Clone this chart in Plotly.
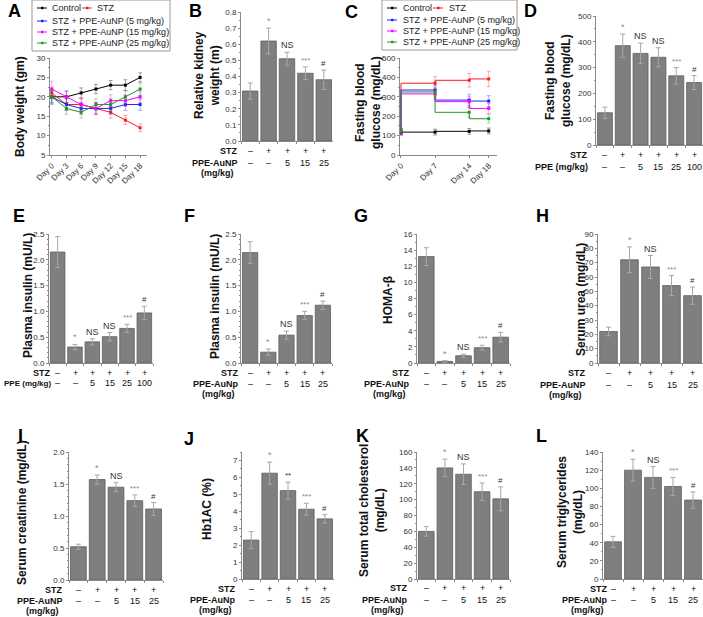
import plotly.graph_objects as go

W, H = 703, 617
FONT = "Liberation Sans, Arial, sans-serif"

# ---------------- DATA ----------------
series_names = ["Control", "STZ", "STZ + PPE-AuNP (5 mg/kg)",
                "STZ + PPE-AuNP (15 mg/kg)", "STZ + PPE-AuNP (25 mg/kg)"]
series_colors = ["#000000", "#ff1a1a", "#2020ff", "#ff00ff", "#1f9a1f"]
series_err_colors = ["rgba(0,0,0,0.35)", "rgba(255,26,26,0.35)", "rgba(32,32,255,0.35)",
                     "rgba(255,0,255,0.35)", "rgba(31,154,31,0.35)"]

# Panel A: body weight
days_a = [0, 3, 6, 9, 12, 15, 18]
day_labels_a = ["Day 0", "Day 3", "Day 6", "Day 9", "Day 12", "Day 15", "Day 18"]
bw_control = [20, 20, 21, 22, 23, 23, 25]
bw_stz = [21, 18, 18, 17, 16, 14, 12]
bw_5 = [20, 18, 17, 17, 17, 18, 18]
bw_15 = [22, 20, 18, 17, 19, 19, 20]
bw_25 = [20, 17, 16, 18, 18, 20, 22]
bw_err_control = [1.5, 1.5, 1.3, 1.2, 1.2, 1.4, 1.2]
bw_err_stz = [1.5, 1.5, 1.5, 1.5, 1.5, 1.2, 1.0]
bw_err_5 = [1.8, 1.5, 1.5, 1.5, 1.5, 1.5, 1.5]
bw_err_15 = [2.0, 1.5, 1.6, 1.5, 1.5, 1.5, 1.5]
bw_err_25 = [2.0, 1.5, 1.5, 1.5, 1.5, 1.6, 1.6]

# Panel C: fasting blood glucose time course
days_c = [0, 7, 14, 18]
day_labels_c = ["Day 0", "Day 7", "Day 14", "Day 18"]
fbg_control = [115, 118, 122, 124]
fbg_stz = [120, 370, 385, 392]
fbg_5 = [118, 335, 283, 278]
fbg_15 = [122, 315, 275, 240]
fbg_25 = [125, 325, 220, 187]
fbg_err_control = [12, 15, 15, 15]
fbg_err_stz = [15, 35, 35, 40]
fbg_err_5 = [15, 25, 30, 28]
fbg_err_15 = [15, 25, 28, 25]
fbg_err_25 = [15, 25, 25, 22]

# Bar panel groups
groups5 = ["Control", "STZ", "STZ + 5", "STZ + 15", "STZ + 25"]
groups6 = ["Control", "STZ", "STZ + 5", "STZ + 15", "STZ + 25", "STZ + 100"]
stz_row5 = ["–", "+", "+", "+", "+"]
stz_row6 = ["–", "+", "+", "+", "+", "+"]
dose_row5 = ["–", "–", "5", "15", "25"]
dose_row6 = ["–", "–", "5", "15", "25", "100"]

# B: relative kidney weight
kidney = [0.31, 0.62, 0.51, 0.42, 0.38]
kidney_err = [0.05, 0.08, 0.04, 0.04, 0.06]
kidney_sig = ["", "*", "NS", "***", "#"]
# D: fasting blood glucose (PPE)
fbg_bar = [125, 385, 355, 340, 268, 242]
fbg_bar_err = [22, 45, 40, 37, 32, 27]
fbg_bar_sig = ["", "*", "NS", "NS", "***", "#"]
# E: plasma insulin (PPE)
ins_ppe = [2.15, 0.31, 0.41, 0.51, 0.67, 0.97]
ins_ppe_err = [0.30, 0.05, 0.06, 0.08, 0.08, 0.13]
ins_ppe_sig = ["", "*", "NS", "NS", "***", "#"]
# F: plasma insulin (PPE-AuNp)
ins_np = [2.14, 0.21, 0.54, 0.92, 1.12]
ins_np_err = [0.21, 0.06, 0.08, 0.08, 0.08]
ins_np_sig = ["", "*", "NS", "***", "#"]
# G: HOMA-beta
homa = [13.2, 0.2, 0.9, 1.9, 3.2]
homa_err = [1.1, 0.1, 0.2, 0.3, 0.6]
homa_sig = ["", "*", "NS", "***", "#"]
# H: serum urea
urea = [22, 72, 67, 54, 47]
urea_err = [3, 9, 8, 7, 6]
urea_sig = ["", "*", "NS", "***", "#"]
# I: serum creatinine
creat = [0.52, 1.57, 1.45, 1.24, 1.11]
creat_err = [0.04, 0.07, 0.07, 0.09, 0.10]
creat_sig = ["", "*", "NS", "***", "#"]
# J: Hb1AC
hba1c = [2.3, 6.25, 5.22, 4.12, 3.55]
hba1c_err = [0.5, 0.65, 0.5, 0.35, 0.25]
hba1c_sig = ["", "*", "**", "***", "#"]
# K: total cholesterol
chol = [60, 140, 132, 110, 101]
chol_err = [6, 11, 13, 11, 15]
chol_sig = ["", "*", "NS", "***", "#"]
# L: triglycerides
trig = [41, 120, 112, 102, 87]
trig_err = [6, 12, 12, 10, 9]
trig_sig = ["", "*", "NS", "***", "#"]

# ---------------- HELPERS ----------------
def px(x):
    return x / W

def py(y):
    return 1 - y / H

fig = go.Figure()
layout = dict(width=W, height=H, autosize=False,
              margin=dict(l=0, r=0, t=0, b=0, pad=0, autoexpand=False),
              paper_bgcolor="white", plot_bgcolor="white", showlegend=False,
              bargap=0.17, font=dict(family=FONT, size=9, color="#333"))
annotations = []
shapes = []

AX = dict(showline=True, linecolor="#8a8a8a", linewidth=1, ticks="outside", ticklen=2,
          tickcolor="#8a8a8a", tickfont=dict(family=FONT, size=8, color="#333"),
          showgrid=False, zeroline=False, automargin=False)


def axnames(k):
    return ("xaxis" if k == 1 else f"xaxis{k}", "yaxis" if k == 1 else f"yaxis{k}",
            "x" if k == 1 else f"x{k}", "y" if k == 1 else f"y{k}")


def set_axes(k, box, xopts, yopts):
    xa, ya, xr, yr = axnames(k)
    x0, x1, top, bot = box
    layout[xa] = dict(AX, domain=[px(x0), px(x1)], anchor=yr, **xopts)
    layout[ya] = dict(AX, domain=[py(bot), py(top)], anchor=xr, **yopts)


def ytitle(text, x, y, size=12):
    annotations.append(dict(text=text, x=px(x), y=py(y), xref="paper", yref="paper",
                            textangle=-90, showarrow=False, xanchor="center", yanchor="middle",
                            font=dict(family=FONT, size=size, color="#111"), align="center"))


def letter(text, x, y):
    annotations.append(dict(text=f"<b>{text}</b>", x=px(x), y=py(y), xref="paper", yref="paper",
                            showarrow=False, xanchor="left", yanchor="middle",
                            font=dict(family=FONT, size=18, color="#000")))


def label(text, x, y, anchor, size=9):
    annotations.append(dict(text=f"<b>{text}</b>", x=px(x), y=py(y), xref="paper",
                            yref="paper", showarrow=False, xanchor=anchor, yanchor="middle",
                            font=dict(family=FONT, size=size, color="#111")))


def sig_color(s):
    return "#333" if s in ("NS", "#", "**") else "#8c8c8c"


def bar_panel(k, box, groups, vals, errs, sig, yrange, dtick, minor_dt, tickformat,
              stz_row, dose_row, dose_lines, rows_y, label_right, label_size=9):
    xa, ya, xr, yr = axnames(k)
    fig.add_trace(go.Bar(x=groups, y=vals, xaxis=xr, yaxis=yr, width=0.84,
                         marker=dict(color="#7f7f7f", line=dict(color="#5e5e5e", width=0.8)),
                         error_y=dict(type="data", array=errs, color="#a8a8a8",
                                      thickness=1, width=2.5)))
    set_axes(k, box,
             dict(type="category", range=[-0.5, len(groups) - 0.5], showticklabels=False,
                  tickson="boundaries", ticklen=2),
             dict(range=yrange, dtick=dtick, tick0=0, tickformat=tickformat,
                  minor=dict(dtick=minor_dt, ticks="outside", ticklen=1.5, tickcolor="#8a8a8a")))
    for g, v, e, s in zip(groups, vals, errs, sig):
        if s:
            annotations.append(dict(text=s, x=g, y=v + e, xref=xr, yref=yr, showarrow=False,
                                    xanchor="center", yanchor="bottom", yshift=0,
                                    font=dict(family=FONT, size=9 if s in ("NS", "*") else 8,
                                              color=sig_color(s))))
    ys, yd = rows_y
    for g, a, b in zip(groups, stz_row, dose_row):
        annotations.append(dict(text=a, x=g, y=py(ys), xref=xr, yref="paper", showarrow=False,
                                xanchor="center", yanchor="middle",
                                font=dict(family=FONT, size=9, color="#111")))
        annotations.append(dict(text=b, x=g, y=py(yd), xref=xr, yref="paper", showarrow=False,
                                xanchor="center", yanchor="middle",
                                font=dict(family=FONT, size=9, color="#111")))
    label("STZ", label_right, ys, "right")
    label(dose_lines[0], label_right, yd, "right", label_size)
    if len(dose_lines) > 1:
        label(dose_lines[1], label_right - 22.5, yd + 10, "center", label_size)


def line_panel(k, box, xs, series, errs, xrange, yrange, dtick, minor_dt, tickvals, ticktext,
               shape):
    xa, ya, xr, yr = axnames(k)
    for name, ys, es, c, ec in zip(series_names, series, errs, series_colors, series_err_colors):
        fig.add_trace(go.Scatter(x=xs, y=ys, name=name, xaxis=xr, yaxis=yr, mode="lines+markers",
                                 line=dict(color=c, width=1, shape=shape),
                                 marker=dict(color=c, size=3, symbol="square"),
                                 error_y=dict(type="data", array=es, color=ec, thickness=1,
                                              width=2)))
    set_axes(k, box,
             dict(range=xrange, tickvals=tickvals, ticktext=ticktext, tickangle=-45),
             dict(range=yrange, dtick=dtick, tick0=0,
                  minor=dict(dtick=minor_dt, ticks="outside", ticklen=1.5, tickcolor="#8a8a8a")))


def manual_legend(box, row1, rows, sample_x, text_x):
    bx0, bx1, by0, by1 = box
    shapes.append(dict(type="rect", xref="paper", yref="paper", x0=px(bx0), x1=px(bx1),
                       y0=py(by1), y1=py(by0), line=dict(color="#999", width=1)))
    entries = [(0, row1[0], sample_x, text_x), (1, row1[0], row1[1], row1[2])]
    for i, y in zip([2, 3, 4], rows):
        entries.append((i, y, sample_x, text_x))
    for i, y, sx, tx in entries:
        c = series_colors[i]
        shapes.append(dict(type="line", xref="paper", yref="paper", x0=px(sx), x1=px(sx + 10),
                           y0=py(y), y1=py(y), line=dict(color=c, width=1)))
        shapes.append(dict(type="rect", xref="paper", yref="paper", x0=px(sx + 4), x1=px(sx + 6.5),
                           y0=py(y + 1.2), y1=py(y - 1.2), line=dict(width=0), fillcolor=c))
        annotations.append(dict(text=series_names[i], x=px(tx), y=py(y), xref="paper",
                                yref="paper", showarrow=False, xanchor="left", yanchor="middle",
                                font=dict(family=FONT, size=9, color="#222")))


# ---------------- PANELS ----------------
# A
line_panel(1, (50, 147, 58, 155), days_a, [bw_control, bw_stz, bw_5, bw_15, bw_25],
           [bw_err_control, bw_err_stz, bw_err_5, bw_err_15, bw_err_25],
           [-0.35, 19.4], [5, 30], 5, 2.5, days_a, day_labels_a, "linear")
manual_legend((32, 170, 0, 51), (8, 82, 95), [21, 32, 43], 37, 50)
letter("A", 6, 11)
ytitle("<b>Body weight (gm)</b>", 20, 107)

# B
bar_panel(2, (241, 333, 12, 141), groups5, kidney, kidney_err, kidney_sig, [0, 0.8], 0.1, 0.05,
          ".1f", stz_row5, dose_row5, ["PPE-AuNP", "(mg/kg)"], (151, 163), 240)
letter("B", 187, 11)
ytitle("<b>Relative kidney<br>weight (m)</b>", 207, 75)

# C
line_panel(3, (400, 497, 58, 155), days_c, [fbg_control, fbg_stz, fbg_5, fbg_15, fbg_25],
           [fbg_err_control, fbg_err_stz, fbg_err_5, fbg_err_15, fbg_err_25],
           [-0.2, 19.7], [0, 500], 100, 50, days_c, day_labels_c, "vh")
manual_legend((382, 517, 0, 50), (8, 433, 447), [20, 31, 42], 387, 401)
letter("C", 343, 12)
ytitle("<b>Fasting blood<br>glucose (mg/dL)</b>", 368, 102)

# D
bar_panel(4, (596, 703, 16, 145), groups6, fbg_bar, fbg_bar_err, fbg_bar_sig, [0, 500], 100, 50,
          "d", stz_row6, dose_row6, ["PPE (mg/kg)"], (155, 167), 590)
letter("D", 522, 11)
ytitle("<b>Fasting blood<br>glucose (mg/dL)</b>", 558, 81)

# E
bar_panel(5, (49, 153, 234, 363), groups6, ins_ppe, ins_ppe_err, ins_ppe_sig, [0, 2.5], 0.5, 0.1,
          ".1f", stz_row6, dose_row6, ["PPE (mg/kg)"], (373, 383), 53, label_size=8)
letter("E", 11, 216)
ytitle("<b>Plasma insulin (mU/L)</b>", 28, 296)

# F
bar_panel(6, (241, 332, 234, 363), groups5, ins_np, ins_np_err, ins_np_sig, [0, 2.5], 0.5, 0.1,
          ".1f", stz_row5, dose_row5, ["PPE-AuNp", "(mg/kg)"], (373, 384), 241)
letter("F", 182, 216)
ytitle("<b>Plasma insulin (mU/L)</b>", 215, 297)

# G
bar_panel(7, (417, 510, 234, 363), groups5, homa, homa_err, homa_sig, [0, 16], 2, 1,
          "d", stz_row5, dose_row5, ["PPE-AuNp", "(mg/kg)"], (373, 384), 412)
letter("G", 352, 216)
ytitle("<b>HOMA-β</b>", 388, 300)

# H
bar_panel(8, (598, 703, 234, 363), groups5, urea, urea_err, urea_sig, [0, 90], 10, 5,
          "d", stz_row5, dose_row5, ["PPE-AuNP", "(mg/kg)"], (373, 385), 588)
letter("H", 534, 216)
ytitle("<b>Serum urea (mg/dL)</b>", 581, 300)

# I
bar_panel(9, (69, 163, 452, 580), groups5, creat, creat_err, creat_sig, [0, 2.0], 0.5, 0.1,
          ".1f", stz_row5, dose_row5, ["PPE-AuNP", "(mg/kg)"], (590, 601), 65)
letter("I", 16, 436)
ytitle("<b>Serum creatinine (mg/dL)</b>", 22, 513)

# J
bar_panel(10, (242, 334, 452, 579), groups5, hba1c, hba1c_err, hba1c_sig, [0, 7.5], 1, 0.5,
          "d", stz_row5, dose_row5, ["PPE-AuNp", "(mg/kg)"], (589, 600), 238)
letter("J", 182, 439)
ytitle("<b>Hb1AC (%)</b>", 207, 509)

# K
bar_panel(11, (417, 510, 452, 579), groups5, chol, chol_err, chol_sig, [0, 160], 20, 10,
          "d", stz_row5, dose_row5, ["PPE-AuNp", "(mg/kg)"], (588, 600), 410)
letter("K", 354, 436)
ytitle("<b>Serum total cholesterol<br>(mg/dL)</b>", 372, 511)

# L
bar_panel(12, (603, 703, 452, 579), groups5, trig, trig_err, trig_sig, [0, 140], 20, 10,
          "d", stz_row5, dose_row5, ["PPE-AuNp", "(mg/kg)"], (589, 600), 610)
letter("L", 534, 436)
ytitle("<b>Serum triglycerides<br>(mg/dL)</b>", 570, 512)

layout["annotations"] = annotations
layout["shapes"] = shapes
fig.update_layout(**layout)
fig.write_html("out.html", config={"displayModeBar": False},
               post_script="document.body.style.margin='0px';")
